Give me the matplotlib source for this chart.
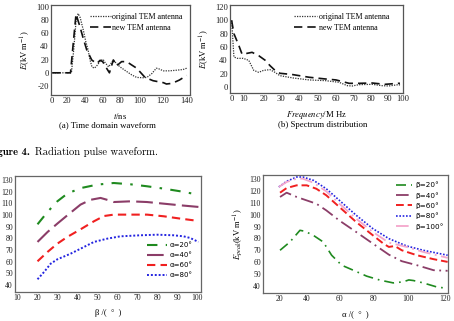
import numpy as np
import matplotlib
matplotlib.use("Agg")
import matplotlib.pyplot as plt

plt.rcParams["font.family"] = ["Liberation Serif", "DejaVu Serif"]
plt.rcParams["mathtext.fontset"] = "stix"
plt.rcParams["axes.unicode_minus"] = False

# ---------------- data ----------------
# (a) time domain waveform
t_orig = [0, 24.5, 27, 29.5, 31.7, 34, 37.4, 40, 42.8, 45, 47.4, 50.2, 54, 57, 60.4, 63, 66.9,
          70, 72.3, 76, 80, 86.9, 92, 97.3, 103, 106.6, 111, 114.8, 117, 120.9, 126, 131.8, 137, 140]
E_orig = [0, 0, 35, 78, 90, 84, 65, 48, 35, 20, 9, 7, 12, 18, 20.5, 15, 9,
          15, 19.5, 14, 9, 2, -3, -7, -7.5, -7, -1, 7, 6, 3, 3, 4, 5, 7]
t_new = [0, 23.5, 26.5, 29.5, 33.8, 37.4, 41.2, 47.1, 53, 57, 60, 64, 67.8, 72.3, 76.1, 81.7,
         86.9, 92, 97.3, 105, 112, 120.9, 123.4, 128, 134, 140]
E_new = [0, 0, 45, 89, 70, 52, 35, 19.5, 14, 19, 17, 8, 0, 19.5, 10.6, 17,
         17, 12, 7, -7, -12, -15, -17, -16, -11, -4]

# (b) spectrum distribution
f_orig = [0, 2, 5, 10, 12.7, 15.1, 17.5, 19.9, 23.6, 26.5, 29.4, 36.4, 45.4, 54.5, 62,
          66.6, 69.4, 73.1, 80.8, 86.5, 90.4, 96.9, 98]
S_orig = [100, 45, 43, 43, 40, 25, 22, 25, 26, 22, 17, 13.6, 10.6, 9.5, 7,
          2, 1.5, 3.5, 4, 2, 1.5, 3.5, 3]
f_new = [0, 2, 6.3, 9.1, 11.1, 14.3, 17.5, 20.8, 23.6, 26.5, 29.4, 36.4, 45.4, 54.5, 60.2,
         67.6, 73.1, 80.8, 88.2, 96.9, 98]
S_new = [100, 80, 62, 49, 50, 52, 47, 40, 32, 25, 20.6, 18.6, 14.6, 12, 10.6,
         5.5, 5.5, 6, 4, 5.5, 5.5]

# (c) peak field vs beta
beta_a20 = [20.1, 25.1, 30, 35, 41.6, 49.9, 58.2, 66.5, 74.8, 83.1, 91.4, 100.5]
E_a20 = [92, 102.6, 111.7, 118.3, 123, 126, 127.4, 126.3, 124.6, 122.6, 120.3, 117.4]
beta_a40 = [20.1, 25.1, 30, 35, 41.6, 46.6, 51.6, 55.7, 58.2, 66.5, 74.8, 83.1, 91.4, 100.5]
E_a40 = [76.9, 85.4, 92.6, 99.7, 108.9, 113, 114.6, 112.6, 111.1, 111.7, 111.1, 109.7, 108.3, 106.9]
beta_a60 = [20.1, 25.1, 30, 35, 41.6, 48.3, 53.3, 58.2, 66.5, 74.8, 83.1, 91.4, 100.5]
E_a60 = [60.3, 68.3, 75.4, 81.2, 87.7, 94.6, 99.1, 100.3, 100.3, 100.3, 98.9, 96.9, 94.9]
beta_a80 = [20.1, 23.4, 26.7, 30, 36.6, 41.6, 48.3, 54.9, 61.5, 71.5, 79.8, 88.1, 93.1, 96.4, 100.5]
E_a80 = [44.9, 51.2, 58.3, 62, 66.8, 71.1, 76.9, 79.7, 81.7, 82.6, 83.1, 82.6, 81.7, 80.3, 76.9]

# (d) peak field vs alpha
al_b20 = [20.4, 27.6, 34.9, 38.5, 43.9, 50, 55.2, 61.3, 68, 75.8, 83.7, 91.4, 97.2, 100.5, 103, 108.3, 115.4, 121.5]
E_b20 = [70, 77, 86.8, 86, 82.6, 77, 65.8, 57.4, 53.2, 48.2, 44.8, 42.5, 43.4, 45, 44.5, 42.5, 39.2, 37.8]
al_b40 = [20.4, 25.2, 32.5, 39.8, 45.8, 51.9, 60, 69.7, 79.4, 88.8, 96.4, 104.9, 113.9, 121.5]
E_b40 = [114.9, 118.5, 114.9, 112, 109.2, 103.6, 95, 85.4, 75.6, 66.3, 60.8, 57.4, 53.2, 52.7]
al_b60 = [20.4, 25.2, 32.5, 39.8, 45.8, 51.9, 60, 69.7, 79.4, 85.6, 88.8, 92.3, 96.4, 104.9, 113.9, 121.5]
E_b60 = [118.5, 122.4, 124.7, 124.7, 121.8, 116.3, 106.4, 93.8, 82.6, 75.6, 72.8, 73.6, 70, 65.8, 62.5, 60.2]
al_b80 = [19.5, 25.2, 32.5, 37, 44, 51.9, 60, 69.7, 79.4, 88.8, 99.3, 108.3, 121.5]
E_b80 = [123.3, 128.1, 131.7, 131.7, 128.9, 121.8, 112, 99.5, 88.2, 79.8, 73.6, 70, 65.8]
al_b100 = [19.5, 25.2, 32.5, 37, 44, 51.9, 60, 69.7, 79.4, 88.8, 99.3, 108.3, 121.5]
E_b100 = [123.3, 127.5, 130.3, 130.3, 126.9, 119.6, 109.2, 96.6, 85.4, 76.4, 72.8, 68.6, 63.6]

ticks_a = [0, 20, 40, 60, 80, 100, 120, 140]
ticks_b = [0, 10, 20, 30, 40, 50, 60, 70, 80, 90, 100]
ticks_d = [20, 40, 60, 80, 100, 120]

# ---------------- layout ----------------
W, H = 454, 321
fig = plt.figure(figsize=(W / 100, H / 100), dpi=100)


def box(l, r, t, b):
    return [l / W, 1 - b / H, (r - l) / W, (b - t) / H]


def fscale(vals, pix):
    vals = np.asarray(vals, float)
    pix = np.asarray(pix, float)
    return (lambda v: np.interp(v, vals, pix), lambda p: np.interp(p, pix, vals))


def style(ax, fs, col):
    for s in ax.spines.values():
        s.set_color(col)
        s.set_linewidth(0.9)
    ax.tick_params(length=0, pad=1.5, labelsize=fs, colors="#222222")


# (a)
ax1 = fig.add_axes(box(51, 190, 5, 95))
ax1.set_xscale("function", functions=fscale([-20] + ticks_a + [160],
                                             [37.3, 52.3, 67.3, 85.7, 102.7, 120, 139.3, 162.3, 186.7, 211.1]))
ax1.plot(t_orig, E_orig, color="#333333", lw=0.9, ls=(0, (1, 1)), label="original TEM antenna")
ax1.plot(t_new, E_new, color="#111111", lw=1.2, ls=(0, (5, 3)), label="new TEM antenna")
ax1.set_xlim(-1.7, 142.7)
ax1.set_ylim(-33.7, 103)
ax1.set_xticks(ticks_a)
ax1.set_yticks([-20, 0, 20, 40, 60, 80, 100])
style(ax1, 6.2, "#555555")
ax1.set_ylabel(r"$\it{E}$(kV m$^{-1}$)", fontsize=6.2, labelpad=3)
ax1.set_xlabel(r"$\it{t}$/ns", fontsize=6.2, labelpad=4)
ax1.legend(loc="upper left", bbox_to_anchor=(86 / W, 1 - 9 / H), bbox_transform=fig.transFigure,
           frameon=False, fontsize=5.8, borderpad=0, handlelength=2.6, handletextpad=0.1,
           labelspacing=0.35)

# (b)
ax2 = fig.add_axes(box(230, 403, 5, 93))
ax2.set_xscale("function", functions=fscale([-10] + ticks_b + [110],
                                             [220.6, 232.3, 244, 265, 282.3, 301, 319.3, 337.7, 355.7, 373.3, 390.7, 406, 421]))
ax2.plot(f_orig, S_orig, color="#333333", lw=0.9, ls=(0, (1, 1)), label="original TEM antenna")
ax2.plot(f_new, S_new, color="#111111", lw=1.2, ls=(0, (5, 3)), label="new TEM antenna")
ax2.set_xlim(-1.4, 98)
ax2.set_ylim(-9, 123)
ax2.set_xticks(ticks_b)
ax2.set_yticks([0, 20, 40, 60, 80, 100, 120])
style(ax2, 6.2, "#555555")
ax2.set_ylabel(r"$\it{E}$(kV m$^{-1}$)", fontsize=6.2, labelpad=3)
ax2.set_xlabel(r"$\it{Frequency}$/M Hz", fontsize=6.2, labelpad=4)
ax2.legend(loc="upper left", bbox_to_anchor=(290 / W, 1 - 9 / H), bbox_transform=fig.transFigure,
           frameon=False, fontsize=5.8, borderpad=0, handlelength=2.9, handletextpad=0.15,
           labelspacing=0.4)

fig.text(107 / W, 1 - 125 / H, "(a) Time domain waveform", fontsize=6.3, ha="center", va="center")
fig.text(323 / W, 1 - 125 / H, "(b) Spectrum distribution", fontsize=6.3, ha="center", va="center")
fig.text(30 / W, 1 - 152 / H, "Figure 4.", fontsize=7.6, ha="right", va="center",
         family="cmb10")
fig.text(35 / W, 1 - 152 / H, "Radiation pulse waveform.", fontsize=7.6, ha="left", va="center",
         family="cmr10")

# (c)
GREEN, PURPLE, RED, BLUE, PINK = "#1f8a1f", "#8b3d68", "#f02020", "#2424e0", "#f4a6cc"
ax3 = fig.add_axes(box(15, 201, 176, 292))
ax3.plot(beta_a20, E_a20, color=GREEN, lw=1.5, ls=(0, (5, 4, 1.2, 4)), label="α=20°")
ax3.plot(beta_a40, E_a40, color=PURPLE, lw=1.5, ls=(0, (8, 3)), label="α=40°")
ax3.plot(beta_a60, E_a60, color=RED, lw=1.5, ls=(0, (4, 2.5)), label="α=60°")
ax3.plot(beta_a80, E_a80, color=BLUE, lw=1.4, ls=(0, (1, 1)), label="α=80°")
ax3.set_xlim(8.85, 101.8)
ax3.set_ylim(34, 133.4)
ax3.set_xticks(range(10, 101, 10))
ax3.set_yticks(range(40, 131, 10))
style(ax3, 5.6, "#666666")
ax3.set_xlabel("β /(  °  )", fontsize=6.2, labelpad=5)
ax3.legend(loc="upper left", bbox_to_anchor=(144 / W, 1 - 239 / H), bbox_transform=fig.transFigure,
           frameon=False, prop={"family": "DejaVu Sans", "size": 5.0}, borderpad=0,
           handlelength=2.8, handletextpad=0.4, labelspacing=0.55)

# (d)
ax4 = fig.add_axes(box(263, 448, 175, 293))
ax4.set_xscale("function", functions=fscale([0] + ticks_d + [140],
                                             [252, 279.5, 307, 339.5, 374, 408, 445, 482]))
ax4.plot(al_b20, E_b20, color=GREEN, lw=1.2, ls=(0, (6, 3, 1, 3)), label="β=20°")
ax4.plot(al_b40, E_b40, color=PURPLE, lw=1.3, ls=(0, (7, 2.5, 1, 2.5)), label="β=40°")
ax4.plot(al_b60, E_b60, color=RED, lw=1.4, ls=(0, (4, 2)), label="β=60°")
ax4.plot(al_b80, E_b80, color=BLUE, lw=1.2, ls=(0, (1, 1)), label="β=80°")
ax4.plot(al_b100, E_b100, color=PINK, lw=1.3, ls=(0, (7, 2.5, 1, 2.5)), label="β=100°")
ax4.set_xlim(8, 121.7)
ax4.set_ylim(34, 133.4)
ax4.set_xticks(ticks_d)
ax4.set_yticks(range(40, 131, 10))
style(ax4, 5.6, "#666666")
ax4.set_xlabel("α /(  °  )", fontsize=6.2, labelpad=5)
ax4.set_ylabel(r"$E_{peak}$(kV m$^{-1}$)", fontsize=6.2, labelpad=3)
ax4.legend(loc="upper left", bbox_to_anchor=(392 / W, 1 - 178 / H), bbox_transform=fig.transFigure,
           frameon=False, prop={"family": "DejaVu Sans", "size": 5.2}, borderpad=0,
           handlelength=2.3, handletextpad=0.4, labelspacing=0.5)

fig.savefig("out.png", dpi=100)
